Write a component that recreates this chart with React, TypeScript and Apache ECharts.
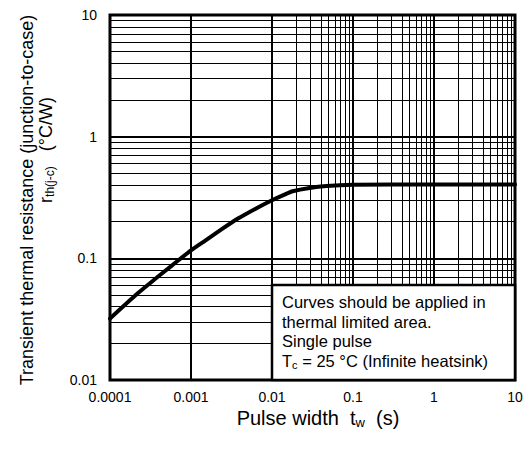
import React, { useEffect, useRef } from "react";
import * as echarts from "echarts";

const xTickLabels = ["0.0001", "0.001", "0.01", "0.1", "1", "10"];
const yTickLabels = ["0.01", "0.1", "1", "10"];

const pulseWidth = [0.0001, 0.00022, 0.00036, 0.00058, 0.001, 0.0015, 0.0024, 0.0038, 0.0062, 0.01, 0.0145, 0.018, 0.029, 0.047, 0.1, 1, 10];
const rth = [0.032, 0.0516, 0.0676, 0.0872, 0.1164, 0.14, 0.1736, 0.2122, 0.2549, 0.3004, 0.336, 0.3556, 0.3785, 0.3931, 0.402, 0.404, 0.404];

const noteLines = ["Curves should be applied in", "thermal limited area.", "Single pulse"];

const FONT = "'Liberation Sans', Arial, sans-serif";

function minorValues(fromExp: number, toExp: number): number[] {
  const out: number[] = [];
  for (let k = fromExp; k < toExp; k++) {
    for (let m = 2; m <= 9; m++) out.push(parseFloat((m * Math.pow(10, k)).toPrecision(6)));
  }
  return out;
}

export default function App() {
  const ref = useRef<HTMLDivElement>(null);
  useEffect(() => {
    if (!ref.current) return;
    const chart = echarts.init(ref.current, undefined, { renderer: "svg" });
    const curve = pulseWidth.map((x, i) => [x, rth[i]]);
    const minorX = minorValues(-4, 1).map((v) => ({ xAxis: v }));
    const minorY = minorValues(-2, 1).map((v) => ({ yAxis: v }));
    const textBase = { fontFamily: FONT, fill: "#000" };
    chart.setOption({
      animation: false,
      backgroundColor: "#fff",
      grid: {
        left: 110,
        top: 15,
        right: 13,
        bottom: 71,
        show: true,
        borderColor: "#000",
        borderWidth: 3,
        backgroundColor: "#fff",
      },
      xAxis: {
        type: "log",
        logBase: 10,
        min: 0.0001,
        max: 10,
        axisLine: { show: false },
        axisTick: { show: false },
        splitLine: { show: true, lineStyle: { color: "#000", width: 2 } },
        axisLabel: {
          margin: 10,
          fontSize: 14,
          fontFamily: FONT,
          color: "#000",
          formatter: (v: number) => xTickLabels[Math.round(Math.log10(v)) + 4],
        },
      },
      yAxis: {
        type: "log",
        logBase: 10,
        min: 0.01,
        max: 10,
        axisLine: { show: false },
        axisTick: { show: false },
        splitLine: { show: true, lineStyle: { color: "#000", width: 2 } },
        axisLabel: {
          margin: 13,
          fontSize: 14,
          fontFamily: FONT,
          color: "#000",
          formatter: (v: number) => yTickLabels[Math.round(Math.log10(v)) + 2],
        },
      },
      series: [
        {
          type: "line",
          data: [[0.0001, 0.01]],
          showSymbol: false,
          lineStyle: { opacity: 0 },
          z: 1,
          markLine: {
            silent: true,
            symbol: ["none", "none"],
            label: { show: false },
            lineStyle: { color: "#000", width: 1, type: "solid" },
            data: [...minorX, ...minorY],
          },
        },
        {
          type: "line",
          data: curve,
          smooth: 0.2,
          showSymbol: false,
          lineStyle: { color: "#000", width: 4, cap: "round", join: "round" },
          z: 5,
        },
      ],
      graphic: [
        {
          type: "text",
          x: 27,
          y: 200,
          rotation: Math.PI / 2,
          style: {
            ...textBase,
            text: "Transient thermal resistance (junction-to-case)",
            fontSize: 18,
            align: "center",
            verticalAlign: "middle",
          },
        },
        {
          type: "text",
          x: 46,
          y: 150,
          rotation: Math.PI / 2,
          style: {
            ...textBase,
            text: "{a|r}{s|th(j-c)}{a|   (°C/W)}",
            align: "center",
            verticalAlign: "middle",
            rich: {
              a: { fontSize: 18, fontFamily: FONT, lineHeight: 22, fill: "#000" },
              s: { fontSize: 12, fontFamily: FONT, lineHeight: 14, padding: [8, 0, 0, 0], fill: "#000" },
            },
          },
        },
        {
          type: "text",
          x: 318,
          y: 418,
          style: {
            ...textBase,
            text: "{a|Pulse width  t}{s|w}{a|  (s)}",
            align: "center",
            verticalAlign: "middle",
            rich: {
              a: { fontSize: 20, fontFamily: FONT, lineHeight: 24, fill: "#000" },
              s: { fontSize: 13, fontFamily: FONT, lineHeight: 15, padding: [9, 0, 0, 0], fill: "#000" },
            },
          },
        },
        {
          type: "rect",
          shape: { x: 272, y: 285, width: 243, height: 95 },
          style: { fill: "#fff", stroke: "#000", lineWidth: 2.5 },
          z: 100,
        },
        ...noteLines.map((t, i) => ({
          type: "text",
          x: 282,
          y: 302 + i * 19.5,
          z: 101,
          style: { ...textBase, text: t, fontSize: 16.5, verticalAlign: "middle" },
        })),
        {
          type: "text",
          x: 282,
          y: 360.5,
          z: 101,
          style: {
            ...textBase,
            text: "{a|T}{s|c}{a| = 25 °C (Infinite heatsink)}",
            verticalAlign: "middle",
            rich: {
              a: { fontSize: 16.5, fontFamily: FONT, lineHeight: 20, fill: "#000" },
              s: { fontSize: 11, fontFamily: FONT, lineHeight: 12, padding: [8, 0, 0, 0], fill: "#000" },
            },
          },
        },
      ],
    });
    return () => chart.dispose();
  }, []);
  return <div ref={ref} style={{ width: 528, height: 451, position: "absolute", left: 0, top: 0 }} />;
}
